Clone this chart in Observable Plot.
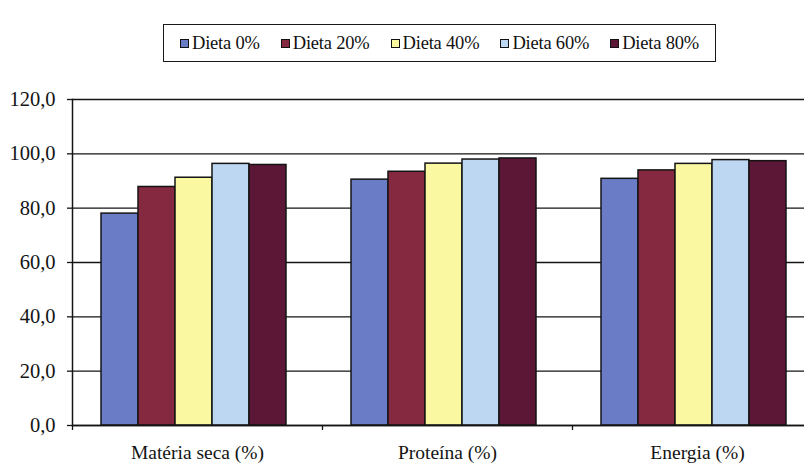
<!DOCTYPE html>
<html>
<head>
<meta charset="utf-8">
<script src="https://cdn.jsdelivr.net/npm/d3@7"></script>
<script src="https://cdn.jsdelivr.net/npm/@observablehq/plot@0.6"></script>
<style>
  html, body { margin: 0; padding: 0; background: #fff; overflow: hidden; }
  #wrap { position: relative; width: 804px; height: 467px; overflow: hidden; }
  #chart { position: absolute; left: 0; top: 0; }
  #chart svg { max-width: none; }
  #legend {
    position: absolute; left: 163px; top: 24px; width: 553px; height: 38px;
    box-sizing: border-box; border: 1.5px solid #1a1a1a; background: #fff;
    display: flex; align-items: center; justify-content: center; gap: 21px;
    font-family: "Liberation Serif", "Times New Roman", serif;
    font-size: 18.5px; color: #111; letter-spacing: -0.2px;
  }
  .item { display: flex; align-items: center; white-space: nowrap; }
  .sw { width: 7px; height: 7px; border: 1.5px solid #111; margin-right: 3px; }
</style>
</head>
<body>
<div id="wrap">
  <div id="chart"></div>
  <div id="legend"></div>
</div>
<script>
// Digestibility coefficients by diet level
const categories = ["Matéria seca (%)", "Proteína (%)", "Energia (%)"];
const series = ["Dieta 0%", "Dieta 20%", "Dieta 40%", "Dieta 60%", "Dieta 80%"];
const materiaSeca = [78.0, 87.8, 91.2, 96.3, 95.9];
const proteina = [90.5, 93.4, 96.4, 97.9, 98.3];
const energia = [90.8, 93.9, 96.3, 97.7, 97.3];
const colors = ["#6a7cc6", "#84293f", "#faf8a0", "#bdd6f2", "#5c1636"];
const yTicks = [0, 20, 40, 60, 80, 100, 120];

const valuesByCategory = [materiaSeca, proteina, energia];
const data = categories.flatMap((cat, i) =>
  series.map((s, j) => ({cat, serie: s, value: valuesByCategory[i][j]}))
);

const width = 822, height = 467;
const marginLeft = 72, marginRight = 0;
const bandW = (width - marginLeft - marginRight) / categories.length;
const font = "Liberation Serif";
const ink = "#141414";

const chart = Plot.plot({
  width, height,
  marginLeft, marginRight, marginTop: 99, marginBottom: 42,
  style: {fontFamily: font, color: ink, background: "transparent"},
  fx: {domain: categories, padding: 0},
  x: {domain: series, paddingInner: 0, paddingOuter: 0.79, align: 0.45, axis: null},
  y: {domain: [0, 120]},
  color: {domain: series, range: colors},
  marks: [
    Plot.gridY(yTicks, {stroke: ink, strokeOpacity: 1, strokeWidth: 1.3}),
    Plot.barY(data, {fx: "cat", x: "serie", y: "value", fill: "serie", stroke: ink, strokeWidth: 1.5}),
    Plot.ruleY([0], {stroke: ink, strokeWidth: 1.5}),
    Plot.frame({anchor: "left", facetAnchor: "left", stroke: ink, strokeWidth: 1.5}),
    Plot.axisY(yTicks, {
      tickSize: 5, tickPadding: 12, fontSize: 20.5, fontFamily: font, stroke: ink, strokeWidth: 1.3,
      tickFormat: d => d.toFixed(1).replace(".", ","), label: null
    }),
    // boundary ticks between categories
    Plot.axisFx({anchor: "bottom", tickSize: 5, dx: -bandW / 2, tickFormat: () => "", label: null, stroke: ink, strokeWidth: 1.3}),
    // category labels
    Plot.axisFx({anchor: "bottom", tickSize: 0, tickPadding: 20, fontSize: 19.5, fontFamily: font, label: null})
  ]
});
document.getElementById("chart").appendChild(chart);

// Legend
const legend = document.getElementById("legend");
series.forEach((s, i) => {
  const item = document.createElement("div");
  item.className = "item";
  const sw = document.createElement("span");
  sw.className = "sw";
  sw.style.background = colors[i];
  item.appendChild(sw);
  item.appendChild(document.createTextNode(s));
  legend.appendChild(item);
});
</script>
</body>
</html>
